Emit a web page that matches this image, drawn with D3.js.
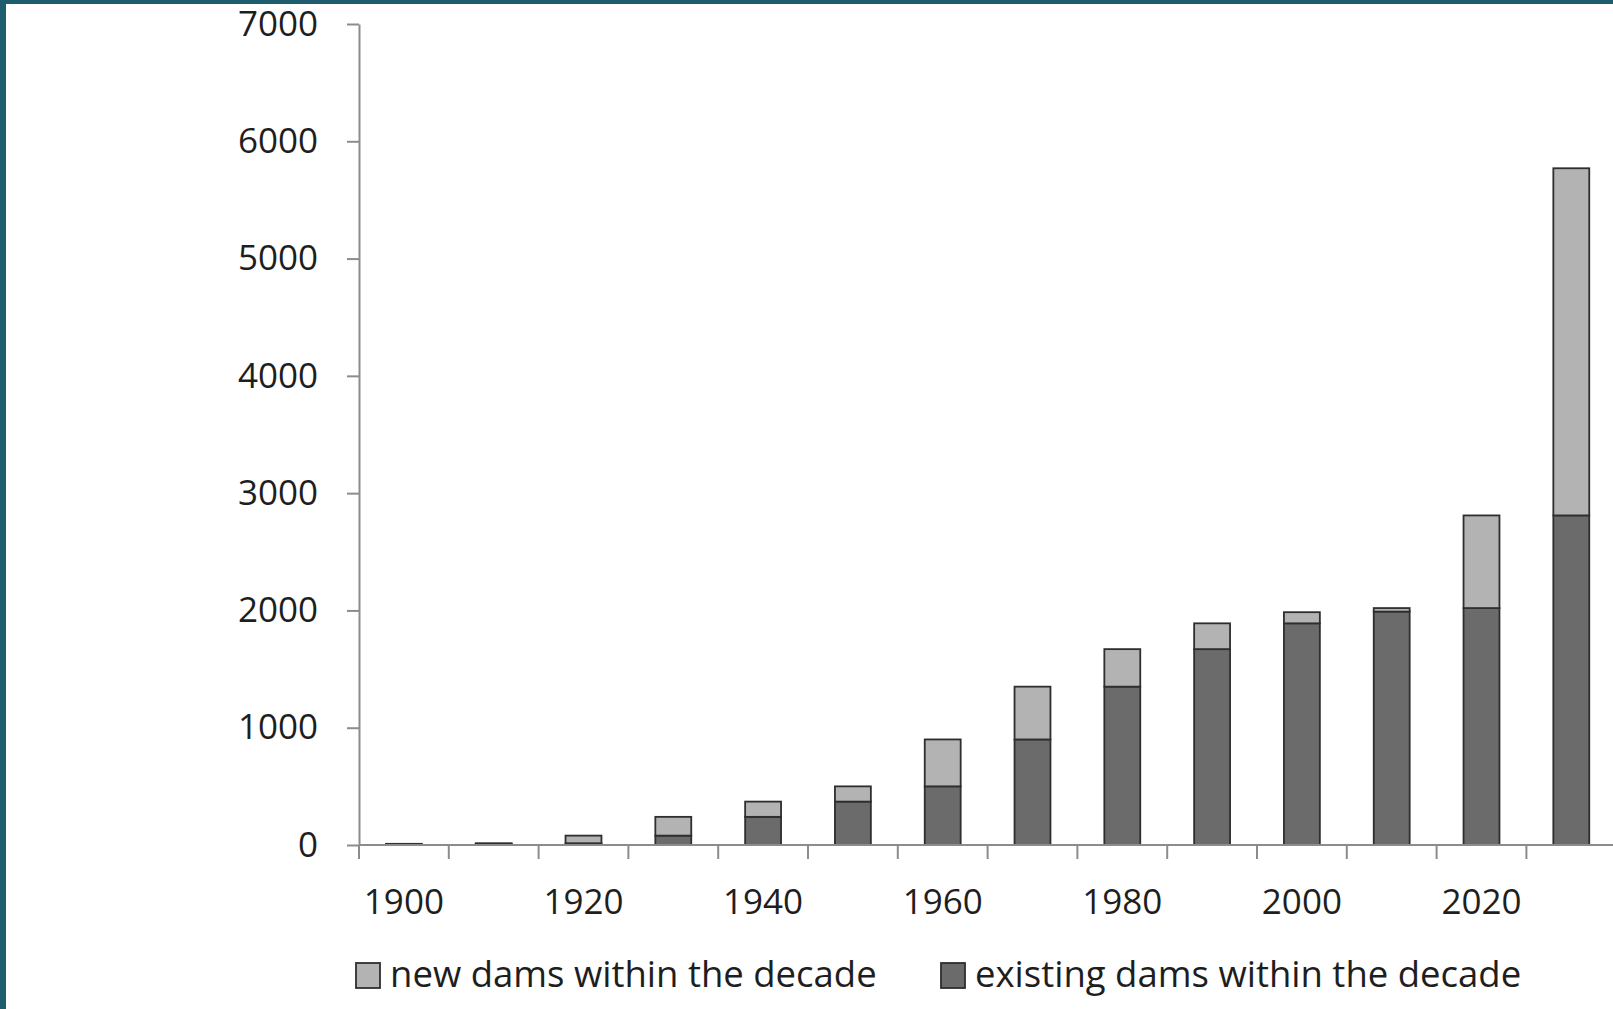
<!DOCTYPE html>
<html>
<head>
<meta charset="utf-8">
<script src="https://cdn.jsdelivr.net/npm/d3@7"></script>
<style>
  html, body { margin: 0; padding: 0; background: #1d5d6e; overflow: hidden; }
  svg { display: block; }
</style>
</head>
<body>
<script>
// ---- data ----
const decades = [1900, 1910, 1920, 1930, 1940, 1950, 1960, 1970, 1980, 1990, 2000, 2010, 2020, 2030];
const existingDams = [0, 10, 15, 80, 240, 370, 500, 900, 1350, 1670, 1890, 1990, 2020, 2810];
const newDams = [10, 5, 65, 160, 130, 130, 400, 450, 320, 220, 95, 30, 790, 2960];
const yTicks = [0, 1000, 2000, 3000, 4000, 5000, 6000, 7000];
const xLabelDecades = [1900, 1920, 1940, 1960, 1980, 2000, 2020];
const seriesNames = ["new dams within the decade", "existing dams within the decade"];

const W = 1613, H = 1009;
const colors = { "new": "#b3b3b3", "existing": "#6b6b6b" };
const font = "'Open Sans', 'Noto Sans', sans-serif";

const svg = d3.select("body").append("svg").attr("width", W).attr("height", H);

// background: teal frame + white panel
svg.append("rect").attr("x", 0).attr("y", 0).attr("width", W).attr("height", H).attr("fill", "#1d5d6e");
svg.append("rect").attr("x", 6).attr("y", 4).attr("width", W - 6).attr("height", H - 4).attr("fill", "#ffffff");

const x0 = 359, step = 89.8;
const x = d3.scaleBand().domain(decades).range([x0, x0 + step * decades.length]).paddingInner(0.6).paddingOuter(0.3);
const y = d3.scaleLinear().domain([0, 7000]).range([845, 24]);

const data = decades.map((d, i) => ({ decade: d, existing: existingDams[i], new: newDams[i] }));
const stack = d3.stack().keys(["existing", "new"])(data);

const g = svg.append("g");

// y axis
const yAxis = d3.axisLeft(y).tickValues(yTicks).tickFormat(d3.format("d"))
  .tickSize(12).tickPadding(29).tickSizeOuter(0);
const ya = g.append("g").attr("transform", `translate(${x0},0)`).call(yAxis);
ya.select(".domain").attr("stroke", "#8c8c8c").attr("stroke-width", 2);
ya.selectAll(".tick line").attr("stroke", "#8c8c8c").attr("stroke-width", 2);
ya.selectAll(".tick text").attr("fill", "#1e1e1e").style("font-family", font).style("font-size", "35px");
// extend y axis below baseline
g.append("line").attr("x1", x0).attr("x2", x0).attr("y1", y(0)).attr("y2", y(0) + 14)
  .attr("stroke", "#8c8c8c").attr("stroke-width", 2);

// bars
const layers = g.selectAll(".layer").data(stack).join("g").attr("class", "layer")
  .attr("fill", d => colors[d.key]);
layers.selectAll("rect").data(d => d).join("rect")
  .attr("x", d => x(d.data.decade))
  .attr("width", x.bandwidth())
  .attr("y", d => y(d[1]))
  .attr("height", d => Math.max(0, y(d[0]) - y(d[1])))
  .attr("stroke", "#2e2e2e")
  .attr("stroke-width", 1.8);

// x axis baseline
g.append("line").attr("x1", x0).attr("x2", W).attr("y1", y(0)).attr("y2", y(0))
  .attr("stroke", "#8c8c8c").attr("stroke-width", 2);
// ticks at band boundaries
const bounds = decades.map(d => x(d) - x.step() * x.paddingOuter());
g.selectAll(".xtick").data(bounds.slice(1)).join("line").attr("class", "xtick")
  .attr("x1", d => d).attr("x2", d => d).attr("y1", y(0)).attr("y2", y(0) + 14)
  .attr("stroke", "#8c8c8c").attr("stroke-width", 2);
// labels
g.selectAll(".xlabel").data(xLabelDecades).join("text").attr("class", "xlabel")
  .attr("x", d => x(d) + x.bandwidth() / 2)
  .attr("y", 914)
  .attr("text-anchor", "middle")
  .attr("fill", "#1e1e1e")
  .style("font-family", font).style("font-size", "35px")
  .text(d => d);

// legend
const legend = [
  { name: seriesNames[0], color: colors["new"], sx: 356, tx: 390 },
  { name: seriesNames[1], color: colors["existing"], sx: 941, tx: 975 }
];
const lg = g.selectAll(".legend").data(legend).join("g").attr("class", "legend");
lg.append("rect").attr("x", d => d.sx).attr("y", 963).attr("width", 24).attr("height", 25)
  .attr("fill", d => d.color).attr("stroke", "#2e2e2e").attr("stroke-width", 1.8);
lg.append("text").attr("x", d => d.tx).attr("y", 987)
  .attr("fill", "#1e1e1e")
  .style("font-family", font).style("font-size", "36.5px")
  .text(d => d.name);
</script>
</body>
</html>
